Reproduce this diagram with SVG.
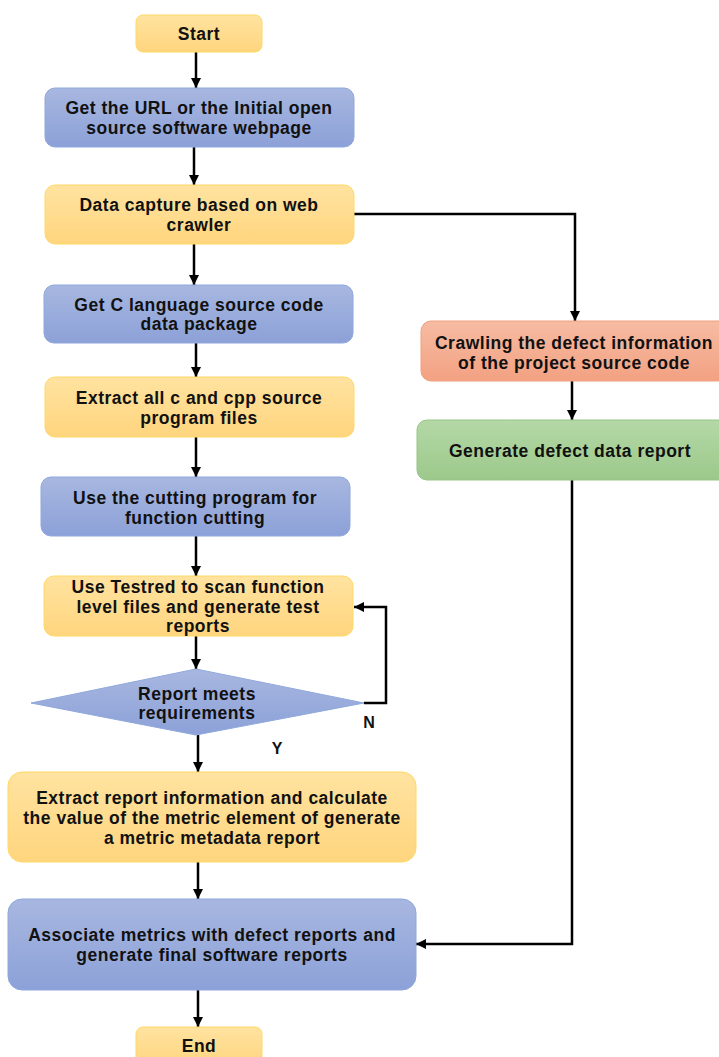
<svg xmlns="http://www.w3.org/2000/svg" width="719" height="1057" viewBox="0 0 719 1057">
  <defs>
    <linearGradient id="gYellow" x1="0" y1="0" x2="0" y2="1">
      <stop offset="0" stop-color="#FFE3A0"/>
      <stop offset="1" stop-color="#FFD57E"/>
    </linearGradient>
    <linearGradient id="gBlue" x1="0" y1="0" x2="0" y2="1">
      <stop offset="0" stop-color="#A8B7E0"/>
      <stop offset="1" stop-color="#8CA1D8"/>
    </linearGradient>
    <linearGradient id="gOrange" x1="0" y1="0" x2="0" y2="1">
      <stop offset="0" stop-color="#F6BCA3"/>
      <stop offset="1" stop-color="#F3A182"/>
    </linearGradient>
    <linearGradient id="gGreen" x1="0" y1="0" x2="0" y2="1">
      <stop offset="0" stop-color="#B4D8A6"/>
      <stop offset="1" stop-color="#9CC98B"/>
    </linearGradient>
    <marker id="arrow" viewBox="0 0 10 10" refX="10" refY="5" markerWidth="4" markerHeight="4" orient="auto" markerUnits="strokeWidth">
      <path d="M0,0 L10,5 L0,10 z" fill="#000"/>
    </marker>
    <style>
      .yellow { fill: url(#gYellow); stroke: #FFD966; stroke-width: 1; }
      .blue { fill: url(#gBlue); stroke: #8FA8DC; stroke-width: 1; }
      .orange { fill: url(#gOrange); stroke: #F0A07E; stroke-width: 1; }
      .green { fill: url(#gGreen); stroke: #97C486; stroke-width: 1; }
      text { font-family: "Liberation Sans", Arial, sans-serif; font-weight: bold; font-size: 17.5px; letter-spacing: 0.5px; fill: #111; text-anchor: middle; }
      .lbl { font-size: 16px; letter-spacing: 0; }
      .conn { fill: none; stroke: #000; stroke-width: 2.5; marker-end: url(#arrow); }
    </style>
  </defs>
  <rect width="719" height="1057" fill="#fff"/>

  <!-- connectors -->
  <g id="connectors">
    <path class="conn" d="M196,52 V88"/>
    <path class="conn" d="M194,147 V185"/>
    <path class="conn" d="M194,244 V285"/>
    <path class="conn" d="M196,343 V377"/>
    <path class="conn" d="M196,437 V477"/>
    <path class="conn" d="M196,536 V576"/>
    <path class="conn" d="M196,636 V669"/>
    <path class="conn" d="M198,735 V772"/>
    <path class="conn" d="M198,862 V899"/>
    <path class="conn" d="M198,990 V1027"/>
    <path class="conn" d="M354,214 H575 V321"/>
    <path class="conn" d="M572,381 V420"/>
    <path class="conn" d="M572,480 V944 H416"/>
    <path class="conn" d="M364,703 H386 V607 H354"/>
    <text class="lbl" x="369" y="728">N</text>
    <text class="lbl" x="277" y="754">Y</text>
  </g>

  <g id="start">
    <rect class="yellow" x="136" y="15" width="126" height="37" rx="7"/>
    <text x="199" y="39.5">Start</text>
  </g>
  <g id="get-url">
    <rect class="blue" x="45" y="88" width="309" height="59" rx="10"/>
    <text x="199" y="113.5">Get the URL or the Initial open</text>
    <text x="199" y="133.5">source software webpage</text>
  </g>
  <g id="data-capture">
    <rect class="yellow" x="45" y="185" width="309" height="59" rx="10"/>
    <text x="199" y="210.5">Data capture based on web</text>
    <text x="199" y="230.5">crawler</text>
  </g>
  <g id="get-c-source">
    <rect class="blue" x="44" y="285" width="309" height="58" rx="10"/>
    <text x="199" y="310.5">Get C language source code</text>
    <text x="199" y="329.5">data package</text>
  </g>
  <g id="extract-files">
    <rect class="yellow" x="45" y="377" width="309" height="60" rx="10"/>
    <text x="199" y="403.5">Extract all c and cpp source</text>
    <text x="199" y="423.5">program files</text>
  </g>
  <g id="cutting">
    <rect class="blue" x="41" y="477" width="309" height="59" rx="10"/>
    <text x="195" y="503.5">Use the cutting program for</text>
    <text x="195" y="523.5">function cutting</text>
  </g>
  <g id="testred">
    <rect class="yellow" x="44" y="576" width="309" height="60" rx="10"/>
    <text x="198" y="592.5">Use Testred to scan function</text>
    <text x="198" y="612.5">level files and generate test</text>
    <text x="198" y="631.5">reports</text>
  </g>
  <g id="decision">
    <polygon class="blue" points="31,703 196,669 364,703 196,735"/>
    <text x="197" y="699.5">Report meets</text>
    <text x="197" y="718.5">requirements</text>
  </g>
  <g id="extract-report">
    <rect class="yellow" x="8" y="772" width="408" height="90" rx="14"/>
    <text x="212" y="803.5">Extract report information and calculate</text>
    <text x="212" y="823.5">the value of the metric element of generate</text>
    <text x="212" y="843.5">a metric metadata report</text>
  </g>
  <g id="associate">
    <rect class="blue" x="8" y="899" width="408" height="91" rx="14"/>
    <text x="212" y="940.5">Associate metrics with defect reports and</text>
    <text x="212" y="960.5">generate final software reports</text>
  </g>
  <g id="end">
    <rect class="yellow" x="136" y="1027" width="126" height="40" rx="7"/>
    <text x="199" y="1051.5">End</text>
  </g>
  <g id="crawl-defects">
    <rect class="orange" x="421" y="321" width="310" height="60" rx="10"/>
    <text x="574" y="348.5">Crawling the defect information</text>
    <text x="574" y="368.5">of the project source code</text>
  </g>
  <g id="defect-report">
    <rect class="green" x="417" y="420" width="314" height="60" rx="10"/>
    <text x="570" y="456.5">Generate defect data report</text>
  </g>
</svg>
